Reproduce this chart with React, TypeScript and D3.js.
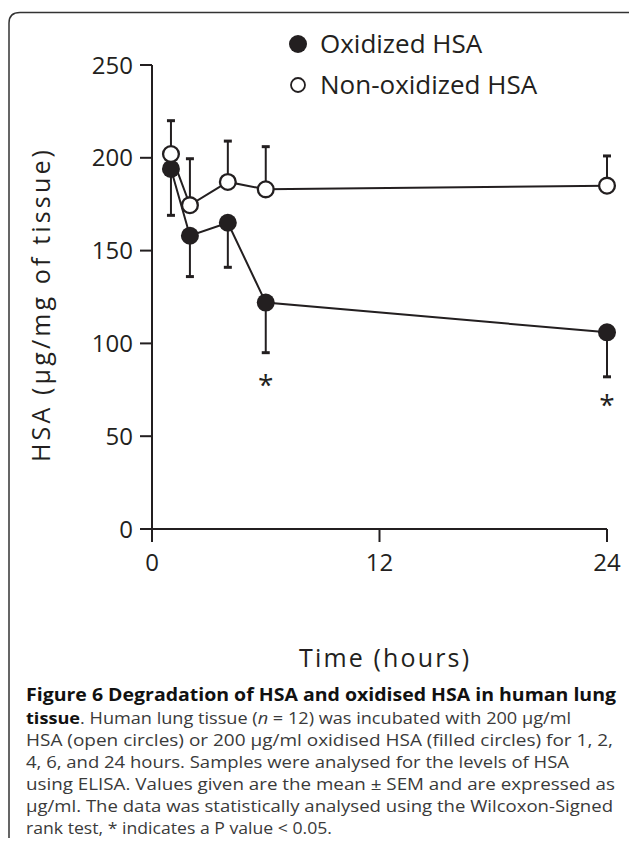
import React from "react";
import * as d3 from "d3";

// sampling times (hours)
const hours = [1, 2, 4, 6, 24];

// HSA in tissue (µg/mg), mean and SEM
const oxidized = [194, 158, 165, 122, 106];
const oxidizedSem = [25, 22, 24, 27, 24];
const nonOxidized = [202, 174.5, 187, 183, 185];
const nonOxidizedSem = [18, 25, 22, 23, 16];

// significance marks (P < 0.05)
const sigHours = [6, 24];
const sigValues = [81, 70];

const xTicks = [0, 12, 24];
const yTicks = [0, 50, 100, 150, 200, 250];

const legendLabels = ["Oxidized HSA", "Non-oxidized HSA"];

const INK = "#231f20";
const FONT = "'Open Sans', sans-serif";

const W = 629;
const H = 846;

export default function App() {
  const x = d3.scaleLinear().domain([0, 24]).range([152, 607]);
  const y = d3.scaleLinear().domain([0, 250]).range([529, 65]);

  const line = d3
    .line<number>()
    .x((_, i) => x(hours[i]))
    .y((d) => y(d));

  const capW = 4;
  const capY = 702;
  const lh = 22;

  return (
    <svg
      width={W}
      height={H}
      style={{ position: "absolute", left: 0, top: 0, background: "#fff" }}
    >
      {/* frame */}
      <path
        d={`M9,838 V23 Q9,12.5 20,12.5 H${W + 2}`}
        fill="none"
        stroke="#333"
        strokeWidth={1.5}
      />

      {/* axes */}
      <g stroke={INK} strokeWidth={2} fill="none">
        <line x1={x(0)} x2={x(24)} y1={y(0)} y2={y(0)} />
        <line x1={x(0)} x2={x(0)} y1={y(0)} y2={y(250)} />
        {yTicks.map((t) => (
          <line key={t} x1={x(0) - 12} x2={x(0)} y1={y(t)} y2={y(t)} />
        ))}
        {xTicks.map((t) => (
          <line key={t} x1={x(t)} x2={x(t)} y1={y(0)} y2={y(0) + 13} />
        ))}
      </g>
      <g fill={INK} fontFamily={FONT} fontSize={24}>
        {yTicks.map((t) => (
          <text key={t} x={133} y={y(t)} dy="0.36em" textAnchor="end">
            {t}
          </text>
        ))}
        {xTicks.map((t) => (
          <text key={t} x={x(t)} y={571} textAnchor="middle">
            {t}
          </text>
        ))}
      </g>

      {/* axis titles */}
      <text
        transform="translate(41,306) rotate(-90)"
        textAnchor="middle"
        dy="0.35em"
        fontFamily={FONT}
        fontSize={25}
        fill={INK}
        textLength={312}
        lengthAdjust="spacing"
      >
        HSA (µg/mg of tissue)
      </text>
      <text
        x={384}
        y={667}
        textAnchor="middle"
        fontFamily={FONT}
        fontSize={25}
        fill={INK}
        textLength={170}
        lengthAdjust="spacing"
      >
        Time (hours)
      </text>

      {/* error bars: oxidized down, non-oxidized up */}
      <g stroke={INK} strokeWidth={2}>
        {hours.map((h, i) => (
          <g key={"o" + h}>
            <line x1={x(h)} x2={x(h)} y1={y(oxidized[i])} y2={y(oxidized[i] - oxidizedSem[i])} />
            <line
              x1={x(h) - capW}
              x2={x(h) + capW}
              y1={y(oxidized[i] - oxidizedSem[i])}
              y2={y(oxidized[i] - oxidizedSem[i])}
              strokeWidth={3}
            />
          </g>
        ))}
        {hours.map((h, i) => (
          <g key={"n" + h}>
            <line x1={x(h)} x2={x(h)} y1={y(nonOxidized[i])} y2={y(nonOxidized[i] + nonOxidizedSem[i])} />
            <line
              x1={x(h) - capW}
              x2={x(h) + capW}
              y1={y(nonOxidized[i] + nonOxidizedSem[i])}
              y2={y(nonOxidized[i] + nonOxidizedSem[i])}
              strokeWidth={3}
            />
          </g>
        ))}
      </g>

      {/* lines */}
      <path d={line(oxidized) ?? ""} fill="none" stroke={INK} strokeWidth={2} />
      <path d={line(nonOxidized) ?? ""} fill="none" stroke={INK} strokeWidth={2} />

      {/* markers */}
      {hours.map((h, i) => (
        <circle key={"fo" + h} cx={x(h)} cy={y(oxidized[i])} r={9} fill={INK} />
      ))}
      {hours.map((h, i) => (
        <circle
          key={"fn" + h}
          cx={x(h)}
          cy={y(nonOxidized[i])}
          r={7.9}
          fill="#fff"
          stroke={INK}
          strokeWidth={2.3}
        />
      ))}

      {/* significance */}
      {sigHours.map((h, i) => (
        <text
          key={"s" + h}
          x={x(h)}
          y={y(sigValues[i]) + 16}
          textAnchor="middle"
          fontFamily={FONT}
          fontSize={28}
          fill={INK}
        >
          *
        </text>
      ))}

      {/* legend */}
      <g fontFamily={FONT} fontSize={26} fill={INK}>
        <circle cx={298} cy={44} r={9} fill={INK} />
        <text x={320} y={44} dy="0.36em">
          {legendLabels[0]}
        </text>
        <circle cx={298} cy={85} r={7} fill="#fff" stroke={INK} strokeWidth={1.8} />
        <text x={320} y={85} dy="0.36em">
          {legendLabels[1]}
        </text>
      </g>

      {/* caption */}
      <g fontFamily={FONT} fontSize={16.8} fill="#3a3a3a">
        <text x={26} y={capY - 1} fontWeight="bold" fontSize={17} fill="#111" textLength={590} lengthAdjust="spacingAndGlyphs">
          Figure 6 Degradation of HSA and oxidised HSA in human lung
        </text>
        <text x={26} y={capY + lh} textLength={545} lengthAdjust="spacingAndGlyphs">
          <tspan fontWeight="bold" fill="#111">tissue</tspan>. Human lung tissue (
          <tspan fontStyle="italic">n</tspan> = 12) was incubated with 200 µg/ml
        </text>
        <text x={26} y={capY + lh * 2} textLength={587} lengthAdjust="spacingAndGlyphs">
          HSA (open circles) or 200 µg/ml oxidised HSA (filled circles) for 1, 2,
        </text>
        <text x={26} y={capY + lh * 3} textLength={543} lengthAdjust="spacingAndGlyphs">
          4, 6, and 24 hours. Samples were analysed for the levels of HSA
        </text>
        <text x={26} y={capY + lh * 4} textLength={589} lengthAdjust="spacingAndGlyphs">
          using ELISA. Values given are the mean ± SEM and are expressed as
        </text>
        <text x={26} y={capY + lh * 5} textLength={587} lengthAdjust="spacingAndGlyphs">
          µg/ml. The data was statistically analysed using the Wilcoxon-Signed
        </text>
        <text x={26} y={capY + lh * 6} textLength={306} lengthAdjust="spacingAndGlyphs">
          rank test, * indicates a P value &lt; 0.05.
        </text>
      </g>
    </svg>
  );
}
